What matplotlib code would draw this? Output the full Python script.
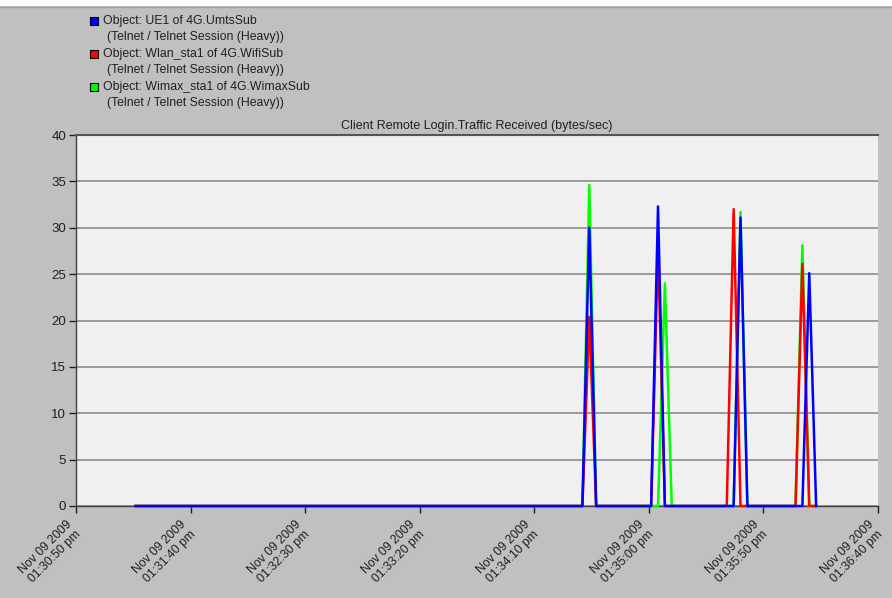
import datetime as dt
import matplotlib
matplotlib.use("Agg")
import matplotlib.pyplot as plt
import matplotlib.dates as mdates
from matplotlib.patches import Rectangle
import numpy as np

plt.rcParams['font.family'] = ['Liberation Sans', 'DejaVu Sans']

# Sampling: one sample every 3 s starting at 01:31:16 pm
start_time = dt.datetime(2009, 11, 9, 13, 31, 16)
sample_step_s = 3
n_samples = 100

# Spikes per series as (sample index, bytes/sec); all other samples are 0
umts_spikes = [(66, 30.0), (76, 32.3), (88, 31.1), (98, 25.1)]
wlan_spikes = [(66, 20.4), (76, 27.8), (87, 32.0), (97, 26.1)]
wimax_spikes = [(66, 34.6), (77, 24.0), (88, 31.7), (97, 28.1)]

series_names = [
    "Object: UE1 of 4G.UmtsSub",
    "Object: Wlan_sta1 of 4G.WifiSub",
    "Object: Wimax_sta1 of 4G.WimaxSub",
]
series_sub = "(Telnet / Telnet Session (Heavy))"
series_colors = ["#0000ff", "#ff0000", "#00ff00"]

tick_times = [dt.datetime(2009, 11, 9, 13, 30, 50) + dt.timedelta(seconds=50 * k)
              for k in range(8)]
y_ticks = [0, 5, 10, 15, 20, 25, 30, 35, 40]

title = "Client Remote Login.Traffic Received (bytes/sec)"


def build_series(spikes):
    vals = np.zeros(n_samples)
    for idx, v in spikes:
        vals[idx] = v
    return vals


def time_label(t):
    return t.strftime("%b %d %Y\n%I:%M:%S ") + t.strftime("%p").lower()


times = [start_time + dt.timedelta(seconds=sample_step_s * i) for i in range(n_samples)]
umts = build_series(umts_spikes)
wlan = build_series(wlan_spikes)
wimax = build_series(wimax_spikes)

W, H = 892, 598
fig = plt.figure(figsize=(W / 100, H / 100), dpi=100, facecolor="#c0c0c0")

# white strip along the top edge
fig.patches.append(Rectangle((0, 1 - 6 / H), 1, 6 / H, transform=fig.transFigure,
                             facecolor="white", edgecolor="none", zorder=0))
fig.add_artist(plt.Line2D([0, 1], [1 - 7 / H, 1 - 7 / H], transform=fig.transFigure,
                          color="#a0a0a0", lw=1))

ax_left, ax_right, ax_top, ax_bottom = 76, 878, 135, 506
ax = fig.add_axes([ax_left / W, 1 - ax_bottom / H, (ax_right - ax_left) / W,
                   (ax_bottom - ax_top) / H])
ax.set_facecolor("#f0f0f0")

lw = 1.8
ax.plot(times, wimax, color=series_colors[2], lw=lw, zorder=3, clip_on=False)
ax.plot(times, wlan, color=series_colors[1], lw=lw, zorder=4, clip_on=False)
ax.plot(times, umts, color=series_colors[0], lw=lw, zorder=5, clip_on=False)

ax.set_ylim(0, 40)
ax.set_yticks(y_ticks)
ax.set_xlim(mdates.date2num(tick_times[0]), mdates.date2num(tick_times[-1]))
tick_pos = [mdates.date2num(t) for t in tick_times]
ax.set_xticks(tick_pos)
ax.set_xticklabels([])
for xp, t in zip(tick_pos, tick_times):
    ax.annotate(time_label(t), xy=(xp, 0), xycoords=("data", "axes fraction"),
                xytext=(-1.2, -15.5), textcoords="offset points",
                rotation=45, ha="right", va="center", rotation_mode="anchor",
                fontsize=8.8, color="#202020", linespacing=1.12,
                annotation_clip=False)
ax.tick_params(axis="x", length=5, width=1, color="#202020", pad=4)
ax.tick_params(axis="y", length=5, width=1, color="#202020", labelsize=9.5,
               labelcolor="#202020", pad=2)

ax.grid(axis="y", color="#8c8c8c", lw=1.2)
ax.set_axisbelow(True)
for side in ["left", "bottom"]:
    ax.spines[side].set_color("#404040")
    ax.spines[side].set_linewidth(1)
ax.spines["top"].set_color("#555555")
ax.spines["top"].set_linewidth(1.5)
ax.spines["right"].set_visible(False)

fig.text((ax_left + ax_right) / 2 / W, 1 - 126 / H, title, ha="center", va="center",
         fontsize=9, color="#202020")

# legend block
row_h = 16.4
y0 = 21
for i, (name, col) in enumerate(zip(series_names, series_colors)):
    yl = y0 + 2 * i * row_h
    fig.patches.append(Rectangle((90 / W, 1 - (yl + 4) / H), 8 / W, 8 / H,
                                 transform=fig.transFigure, facecolor=col,
                                 edgecolor="#000000", lw=0.8, zorder=2))
    fig.text(103 / W, 1 - yl / H, name, ha="left", va="center", fontsize=8.8,
             color="#202020")
    fig.text(107 / W, 1 - (yl + row_h) / H, series_sub, ha="left", va="center",
             fontsize=8.8, color="#202020")

fig.savefig("out.png", dpi=100, facecolor=fig.get_facecolor())
